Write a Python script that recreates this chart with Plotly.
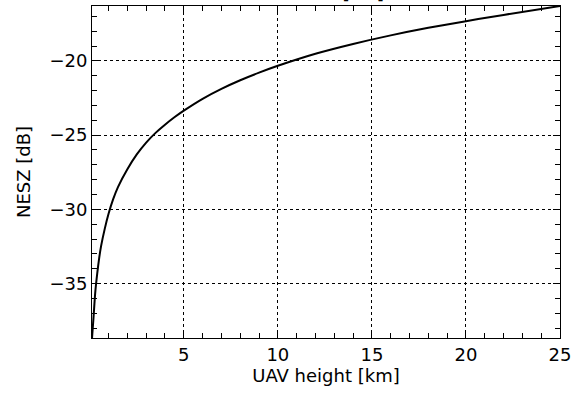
import plotly.graph_objects as go

# UAV height [km]
height_km = [0.12, 0.2, 0.3, 0.4, 0.5, 0.6, 0.8, 1.0, 1.25, 1.5, 2.0, 2.5, 3.0,
             3.5, 4.0, 4.5, 5.0, 6.0, 7.0, 8.0, 9.0, 10.0, 12.0, 14.0, 16.0, 18.0,
             20.0, 22.0, 25.0]
# NESZ [dB]
nesz_db = [-38.7, -37.3, -35.5, -34.3, -33.3, -32.5, -31.3, -30.3, -29.3, -28.5,
           -27.3, -26.3, -25.5, -24.85, -24.3, -23.8, -23.35, -22.55, -21.88,
           -21.3, -20.79, -20.33, -19.52, -18.86, -18.28, -17.77, -17.32, -16.9,
           -16.3]

x_ticks = [5, 10, 15, 20, 25]
y_ticks = [-35, -30, -25, -20]

FONT = "DejaVu Sans"
L, R, T, B = 92, 24, 6, 58
W, H = 584, 396

fig = go.Figure()
fig.add_trace(go.Scatter(x=height_km, y=nesz_db, mode="lines",
                         line=dict(color="black", width=2, shape="spline", smoothing=1.0),
                         showlegend=False, hoverinfo="skip"))

axis_common = dict(
    showline=True, linecolor="black", linewidth=1, mirror="allticks",
    ticks="inside", ticklen=7, tickwidth=1, tickcolor="black",
    showgrid=True, gridcolor="black", gridwidth=1, griddash="dot",
    zeroline=False, tickfont=dict(family=FONT, size=18, color="black"),
)

fig.update_xaxes(range=[0.12, 25], tickvals=x_ticks, ticktext=[str(v) for v in x_ticks],
                 minor=dict(dtick=1, tick0=0, ticks="inside", ticklen=5, tickcolor="black",
                            showgrid=False),
                 title=dict(text="UAV height [km]", font=dict(family=FONT, size=18, color="black"),
                            standoff=5),
                 **axis_common)
fig.update_yaxes(range=[-38.67, -16.3], tickvals=y_ticks,
                 minor=dict(dtick=1, tick0=0, ticks="inside", ticklen=5, tickcolor="black",
                            showgrid=False),
                 title=dict(text="NESZ [dB]", font=dict(family=FONT, size=18, color="black"),
                            standoff=14),
                 **axis_common)

plot_w = W - L - R
plot_h = H - T - B
fig.add_annotation(text="NESZ [dB]", xref="paper", yref="paper",
                   x=(386 - L) / plot_w, y=1 + 0 / plot_h, xanchor="right", yanchor="bottom",
                   showarrow=False, font=dict(family=FONT, size=20, color="black"))

fig.update_layout(width=W, height=H, margin=dict(l=L, r=R, t=T, b=B),
                  paper_bgcolor="white", plot_bgcolor="white",
                  font=dict(family=FONT, size=18, color="black"))

fig.write_html("out.html")
